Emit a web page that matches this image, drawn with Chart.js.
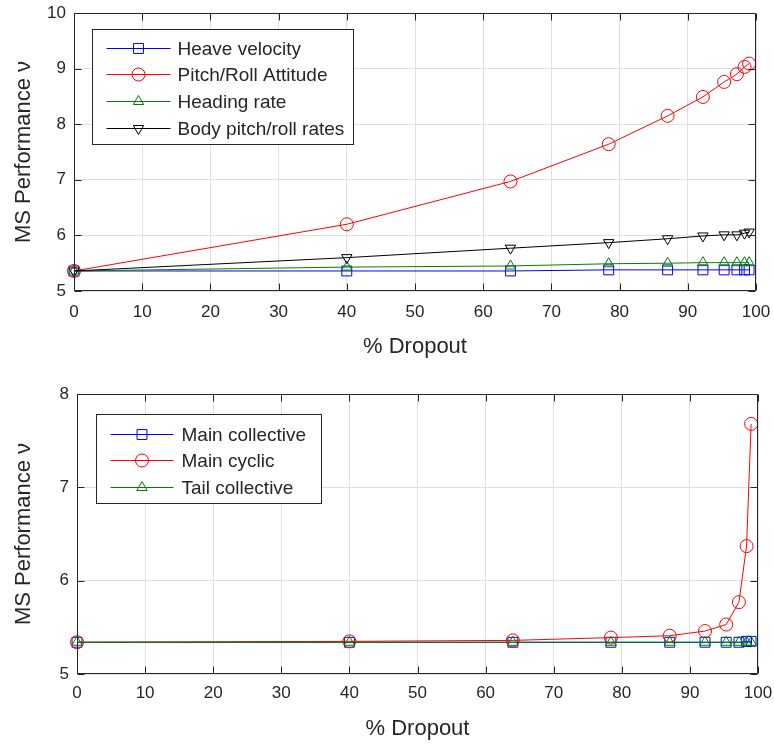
<!DOCTYPE html>
<html><head><meta charset="utf-8">
<script src="https://cdn.jsdelivr.net/npm/chart.js@4/dist/chart.umd.min.js"></script>
<style>html,body{margin:0;padding:0;background:#fff;}
.w{position:relative;width:774px;height:372px;}
canvas{display:block;}
</style></head><body>
<div class="w"><canvas id="c1" width="774" height="372"></canvas></div>
<div class="w"><canvas id="c2" width="774" height="372"></canvas></div>
<script>
// ---- data ----
const dropout = [0, 40, 64, 78.4, 87.04, 92.22, 95.33, 97.2, 98.32, 98.99];
const xTicks = [0, 10, 20, 30, 40, 50, 60, 70, 80, 90, 100];
const yTicksTop = [5, 6, 7, 8, 9, 10];
const yTicksBottom = [5, 6, 7, 8];

const heaveVelocity      = [5.36, 5.36, 5.36, 5.38, 5.38, 5.38, 5.38, 5.38, 5.38, 5.38];
const pitchRollAttitude  = [5.36, 6.20, 6.97, 7.64, 8.15, 8.49, 8.76, 8.90, 9.03, 9.09];
const headingRate        = [5.36, 5.43, 5.45, 5.49, 5.50, 5.51, 5.51, 5.51, 5.51, 5.51];
const bodyPitchRollRates = [5.36, 5.60, 5.77, 5.87, 5.94, 5.99, 6.01, 6.01, 6.04, 6.06];

const mainCollective = [5.34, 5.34, 5.34, 5.34, 5.34, 5.34, 5.34, 5.34, 5.35, 5.35];
const mainCyclic     = [5.34, 5.35, 5.36, 5.39, 5.41, 5.46, 5.53, 5.77, 6.37, 7.68];
const tailCollective = [5.34, 5.34, 5.34, 5.34, 5.34, 5.34, 5.34, 5.34, 5.34, 5.34];

const topLabels = ['Heave velocity', 'Pitch/Roll Attitude', 'Heading rate', 'Body pitch/roll rates'];
const bottomLabels = ['Main collective', 'Main cyclic', 'Tail collective'];
const xTitle = '% Dropout';
const yTitle = 'MS Performance \u03bd';

// ---- styling ----
const FONT = "'Liberation Sans', Arial, Helvetica, sans-serif";
const TXT = '#262626';
Chart.defaults.color = TXT;
Chart.defaults.font.family = FONT;

function pts(ys) { return dropout.map((x, i) => ({x: x, y: ys[i]})); }
function ds(label, ys, color, style, radius, rot, order) {
  return {label: label, data: pts(ys), borderColor: color, backgroundColor: 'rgba(0,0,0,0)',
    borderWidth: 1, pointStyle: style, pointRadius: radius, pointRotation: rot || 0,
    pointBorderWidth: 1, pointBorderColor: color, pointBackgroundColor: 'rgba(0,0,0,0)',
    showLine: true, tension: 0, clip: false, order: order};
}

const matlabAxes = {
  id: 'matlabAxes',
  afterDatasetsDraw(chart) {
    const ctx = chart.ctx, ca = chart.chartArea;
    const xs = chart.scales.x, ys = chart.scales.y;
    ctx.save();
    ctx.strokeStyle = TXT; ctx.lineWidth = 1;
    ctx.beginPath();
    const L = Math.round(ca.left) + 0.5, R = Math.round(ca.right) - 0.5;
    const T = Math.round(ca.top) + 0.5, B = Math.round(ca.bottom) - 0.5;
    ctx.rect(L, T, R - L, B - T);
    xs.ticks.forEach(t => {
      const p = Math.round(xs.getPixelForValue(t.value)) + 0.5;
      ctx.moveTo(p, B); ctx.lineTo(p, B - 7);
      ctx.moveTo(p, T); ctx.lineTo(p, T + 7);
    });
    ys.ticks.forEach(t => {
      const p = Math.round(ys.getPixelForValue(t.value)) + 0.5;
      ctx.moveTo(L, p); ctx.lineTo(L + 7, p);
      ctx.moveTo(R, p); ctx.lineTo(R - 7, p);
    });
    ctx.stroke();
    ctx.restore();
  }
};

function drawMarker(ctx, style, r, rot, x, y) {
  if (Chart.helpers && Chart.helpers.drawPoint) {
    Chart.helpers.drawPoint(ctx, {pointStyle: style, radius: r, rotation: rot, borderWidth: 1}, x, y);
  }
}

const mlLegend = {
  id: 'mlLegend',
  afterDraw(chart, args, o) {
    const ctx = chart.ctx, ca = chart.chartArea;
    const list = chart.data.datasets;
    ctx.save();
    ctx.font = o.font;
    let maxW = 0;
    list.forEach(d => { maxW = Math.max(maxW, ctx.measureText(d.label).width); });
    const x0 = Math.round(ca.left + o.dx) + 0.5, y0 = Math.round(ca.top + o.dy) + 0.5;
    const w = Math.round(o.textX + maxW + o.padR);
    const h = Math.round(o.padT + o.rowH * (list.length - 1) + o.padB);
    ctx.fillStyle = '#ffffff'; ctx.fillRect(x0, y0, w, h);
    ctx.strokeStyle = TXT; ctx.lineWidth = 1; ctx.strokeRect(x0, y0, w, h);
    list.forEach((d, i) => {
      const y = Math.round(y0 + o.padT + i * o.rowH) + 0.5;
      ctx.strokeStyle = d.borderColor; ctx.lineWidth = 1;
      ctx.beginPath(); ctx.moveTo(x0 + o.lineX0, y); ctx.lineTo(x0 + o.lineX1, y); ctx.stroke();
      ctx.fillStyle = 'rgba(0,0,0,0)';
      drawMarker(ctx, d.pointStyle, d.pointRadius, d.pointRotation, x0 + (o.lineX0 + o.lineX1) / 2, y);
      ctx.fillStyle = TXT; ctx.textBaseline = 'middle'; ctx.textAlign = 'left';
      ctx.fillText(d.label, x0 + o.textX, y + 1);
    });
    ctx.restore();
  }
};

function makeOptions(cfg) {
  return {
    responsive: false, animation: false, devicePixelRatio: 1,
    layout: {padding: {top: cfg.padTop, right: cfg.padRight, left: 0, bottom: 0}},
    plugins: {legend: {display: false}, tooltip: {enabled: false}, mlLegend: cfg.legend},
    scales: {
      x: {type: 'linear', min: 0, max: 100,
        afterBuildTicks: s => { s.ticks = xTicks.map(v => ({value: v})); },
        afterFit: s => { s.height = cfg.xH; s.paddingLeft = 0; s.paddingRight = 0; },
        ticks: {padding: cfg.xTickPad, font: {size: 17}, color: TXT, maxRotation: 0, autoSkip: false},
        grid: {color: '#e0e0e0', lineWidth: 1, drawTicks: false},
        border: {display: false},
        title: {display: true, text: xTitle, color: TXT, font: {size: 22}, padding: {top: 0, bottom: cfg.xTitlePad}}},
      y: {type: 'linear', min: cfg.yMin, max: cfg.yMax,
        afterBuildTicks: s => { s.ticks = cfg.yTicks.map(v => ({value: v})); },
        afterFit: s => { s.width = cfg.yW; s.paddingTop = 0; s.paddingBottom = 0; },
        ticks: {padding: 8, font: {size: 17}, color: TXT, autoSkip: false},
        grid: {color: '#e0e0e0', lineWidth: 1, drawTicks: false},
        border: {display: false},
        title: {display: true, text: yTitle, color: TXT, font: {size: 22}, padding: {top: 11, bottom: 0}}}
    }
  };
}

new Chart(document.getElementById('c1'), {
  type: 'scatter',
  data: {datasets: [
    ds(topLabels[0], heaveVelocity, '#0000ff', 'rect', 7, 0, 4),
    ds(topLabels[1], pitchRollAttitude, '#ff0000', 'circle', 6.5, 0, 3),
    ds(topLabels[2], headingRate, '#008000', 'triangle', 6, 0, 2),
    ds(topLabels[3], bodyPitchRollRates, '#000000', 'triangle', 6, 180, 1)
  ]},
  options: makeOptions({padTop: 13, padRight: 18, xH: 81, yW: 74, xTickPad: 11, xTitlePad: 12,
    yMin: 5, yMax: 10, yTicks: yTicksTop,
    legend: {font: '19px ' + FONT, dx: 18, dy: 16, padT: 18, rowH: 26.7, padB: 17, lineX0: 14, lineX1: 78, textX: 85, padR: 9}}),
  plugins: [matlabAxes, mlLegend]
});

new Chart(document.getElementById('c2'), {
  type: 'scatter',
  data: {datasets: [
    ds(bottomLabels[0], mainCollective, '#0000ff', 'rect', 7, 0, 3),
    ds(bottomLabels[1], mainCyclic, '#ff0000', 'circle', 6.5, 0, 2),
    ds(bottomLabels[2], tailCollective, '#008000', 'triangle', 6, 0, 1)
  ]},
  options: makeOptions({padTop: 22, padRight: 16, xH: 70, yW: 77, xTickPad: 9, xTitlePad: 2,
    yMin: 5, yMax: 8, yTicks: yTicksBottom,
    legend: {font: '19px ' + FONT, dx: 19, dy: 20, padT: 19, rowH: 26.5, padB: 17, lineX0: 14, lineX1: 77, textX: 85, padR: 15}}),
  plugins: [matlabAxes, mlLegend]
});
</script>
</body></html>
